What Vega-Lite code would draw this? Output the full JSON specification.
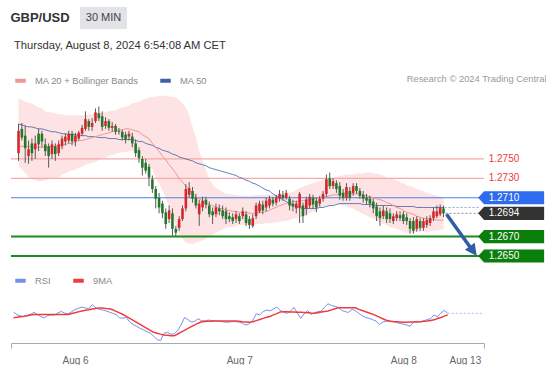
{
"$schema": "https://vega.github.io/schema/vega-lite/v6.json",
"background": "white",
"padding": {"left": 10, "top": 7, "right": 0, "bottom": 0},
"config": {"view": {"stroke": null}, "font": "Liberation Sans"},
"spacing": 7,
"resolve": {"scale": {"color": "independent", "x": "independent", "y": "independent"}, "legend": {"color": "independent"}},
"datasets": {
"candles": [
{"i":0,"o":1.2756,"h":1.2786,"l":1.2748,"c":1.2779,"m20":1.2763,"bu":1.2812,"bl":1.2743,"m50":1.2786,"rsi":52,"rma":45.2},
{"i":1,"o":1.2781,"h":1.2787,"l":1.2769,"c":1.2772,"m20":1.2763,"bu":1.2811,"bl":1.2739,"m50":1.2785,"rsi":49,"rma":45.8},
{"i":2,"o":1.2774,"h":1.2784,"l":1.2746,"c":1.2761,"m20":1.2763,"bu":1.2809,"bl":1.2736,"m50":1.2784,"rsi":47.5,"rma":46.4},
{"i":3,"o":1.2753,"h":1.2769,"l":1.2745,"c":1.2760,"m20":1.2763,"bu":1.2808,"bl":1.2731,"m50":1.2783,"rsi":46.4,"rma":47},
{"i":4,"o":1.2766,"h":1.2771,"l":1.2748,"c":1.2756,"m20":1.2762,"bu":1.2807,"bl":1.2729,"m50":1.2783,"rsi":48,"rma":47.7},
{"i":5,"o":1.2760,"h":1.2774,"l":1.2750,"c":1.2766,"m20":1.2762,"bu":1.2805,"bl":1.2728,"m50":1.2782,"rsi":49.5,"rma":48.4},
{"i":6,"o":1.2776,"h":1.2781,"l":1.2758,"c":1.2765,"m20":1.2762,"bu":1.2803,"bl":1.2727,"m50":1.2781,"rsi":51.6,"rma":49},
{"i":7,"o":1.2776,"h":1.2779,"l":1.2762,"c":1.2768,"m20":1.2762,"bu":1.2802,"bl":1.2727,"m50":1.2781,"rsi":49,"rma":49},
{"i":8,"o":1.2765,"h":1.2771,"l":1.2753,"c":1.2758,"m20":1.2762,"bu":1.2799,"bl":1.2728,"m50":1.2780,"rsi":46.5,"rma":49},
{"i":9,"o":1.2763,"h":1.2766,"l":1.2741,"c":1.2753,"m20":1.2762,"bu":1.2798,"bl":1.2729,"m50":1.2779,"rsi":45,"rma":49},
{"i":10,"o":1.2755,"h":1.2769,"l":1.2750,"c":1.2765,"m20":1.2763,"bu":1.2798,"bl":1.2729,"m50":1.2778,"rsi":48,"rma":49},
{"i":11,"o":1.2763,"h":1.2766,"l":1.2748,"c":1.2755,"m20":1.2763,"bu":1.2797,"bl":1.2730,"m50":1.2778,"rsi":48.5,"rma":49},
{"i":12,"o":1.2756,"h":1.2769,"l":1.2753,"c":1.2765,"m20":1.2764,"bu":1.2796,"bl":1.2731,"m50":1.2777,"rsi":48.5,"rma":49},
{"i":13,"o":1.2763,"h":1.2774,"l":1.2760,"c":1.2771,"m20":1.2765,"bu":1.2796,"bl":1.2734,"m50":1.2776,"rsi":51,"rma":49},
{"i":14,"o":1.2768,"h":1.2776,"l":1.2764,"c":1.2773,"m20":1.2765,"bu":1.2795,"bl":1.2735,"m50":1.2776,"rsi":52.8,"rma":49},
{"i":15,"o":1.2769,"h":1.2779,"l":1.2766,"c":1.2776,"m20":1.2766,"bu":1.2795,"bl":1.2737,"m50":1.2775,"rsi":50.5,"rma":49},
{"i":16,"o":1.2776,"h":1.2779,"l":1.2764,"c":1.2768,"m20":1.2766,"bu":1.2795,"bl":1.2738,"m50":1.2775,"rsi":50,"rma":49},
{"i":17,"o":1.2768,"h":1.2777,"l":1.2763,"c":1.2774,"m20":1.2768,"bu":1.2795,"bl":1.2739,"m50":1.2775,"rsi":52.5,"rma":50.2},
{"i":18,"o":1.2771,"h":1.2779,"l":1.2769,"c":1.2777,"m20":1.2769,"bu":1.2795,"bl":1.2741,"m50":1.2774,"rsi":55,"rma":51.3},
{"i":19,"o":1.2776,"h":1.2785,"l":1.2774,"c":1.2782,"m20":1.2769,"bu":1.2795,"bl":1.2742,"m50":1.2774,"rsi":56.5,"rma":52.3},
{"i":20,"o":1.2781,"h":1.2799,"l":1.2779,"c":1.2791,"m20":1.2770,"bu":1.2795,"bl":1.2744,"m50":1.2774,"rsi":58,"rma":53.4},
{"i":21,"o":1.2789,"h":1.2791,"l":1.2779,"c":1.2783,"m20":1.2771,"bu":1.2796,"bl":1.2745,"m50":1.2773,"rsi":57,"rma":54.3},
{"i":22,"o":1.2783,"h":1.2792,"l":1.2779,"c":1.2787,"m20":1.2772,"bu":1.2796,"bl":1.2746,"m50":1.2773,"rsi":56,"rma":54.9},
{"i":23,"o":1.2789,"h":1.2802,"l":1.2787,"c":1.2798,"m20":1.2773,"bu":1.2797,"bl":1.2747,"m50":1.2773,"rsi":61,"rma":55.6},
{"i":24,"o":1.2797,"h":1.2804,"l":1.2789,"c":1.2792,"m20":1.2774,"bu":1.2797,"bl":1.2749,"m50":1.2772,"rsi":57,"rma":56.2},
{"i":25,"o":1.2794,"h":1.2799,"l":1.2779,"c":1.2783,"m20":1.2775,"bu":1.2798,"bl":1.2750,"m50":1.2772,"rsi":55.4,"rma":56.8},
{"i":26,"o":1.2784,"h":1.2793,"l":1.2781,"c":1.2789,"m20":1.2776,"bu":1.2798,"bl":1.2751,"m50":1.2772,"rsi":54.5,"rma":57},
{"i":27,"o":1.2789,"h":1.2791,"l":1.2779,"c":1.2782,"m20":1.2777,"bu":1.2799,"bl":1.2753,"m50":1.2771,"rsi":53.5,"rma":56.4},
{"i":28,"o":1.2782,"h":1.2788,"l":1.2778,"c":1.2784,"m20":1.2778,"bu":1.2800,"bl":1.2754,"m50":1.2771,"rsi":52,"rma":55.9},
{"i":29,"o":1.2784,"h":1.2786,"l":1.2775,"c":1.2778,"m20":1.2779,"bu":1.2800,"bl":1.2755,"m50":1.2771,"rsi":50.5,"rma":54.7},
{"i":30,"o":1.2779,"h":1.2782,"l":1.2775,"c":1.2778,"m20":1.2780,"bu":1.2802,"bl":1.2756,"m50":1.2770,"rsi":49,"rma":52.9},
{"i":31,"o":1.2778,"h":1.2780,"l":1.2769,"c":1.2772,"m20":1.2780,"bu":1.2803,"bl":1.2757,"m50":1.2770,"rsi":45,"rma":51},
{"i":32,"o":1.2775,"h":1.2778,"l":1.2766,"c":1.2770,"m20":1.2781,"bu":1.2804,"bl":1.2757,"m50":1.2770,"rsi":44.8,"rma":49.1},
{"i":33,"o":1.2773,"h":1.2779,"l":1.2769,"c":1.2776,"m20":1.2781,"bu":1.2805,"bl":1.2758,"m50":1.2770,"rsi":45.5,"rma":46.9},
{"i":34,"o":1.2773,"h":1.2777,"l":1.2762,"c":1.2766,"m20":1.2780,"bu":1.2807,"bl":1.2758,"m50":1.2770,"rsi":40,"rma":44.5},
{"i":35,"o":1.2766,"h":1.2770,"l":1.2752,"c":1.2756,"m20":1.2779,"bu":1.2808,"bl":1.2757,"m50":1.2769,"rsi":37,"rma":42.1},
{"i":36,"o":1.2759,"h":1.2762,"l":1.2746,"c":1.2751,"m20":1.2778,"bu":1.2809,"bl":1.2755,"m50":1.2768,"rsi":35,"rma":39.7},
{"i":37,"o":1.2750,"h":1.2753,"l":1.2733,"c":1.2741,"m20":1.2775,"bu":1.2811,"bl":1.2753,"m50":1.2768,"rsi":32.5,"rma":37.2},
{"i":38,"o":1.2746,"h":1.2750,"l":1.2735,"c":1.2738,"m20":1.2773,"bu":1.2812,"bl":1.2749,"m50":1.2766,"rsi":30.8,"rma":34.8},
{"i":39,"o":1.2742,"h":1.2745,"l":1.2722,"c":1.2731,"m20":1.2771,"bu":1.2813,"bl":1.2744,"m50":1.2765,"rsi":28.5,"rma":32.5},
{"i":40,"o":1.2729,"h":1.2733,"l":1.2715,"c":1.2719,"m20":1.2766,"bu":1.2814,"bl":1.2739,"m50":1.2764,"rsi":26.8,"rma":30.1},
{"i":41,"o":1.2719,"h":1.2722,"l":1.2699,"c":1.2709,"m20":1.2762,"bu":1.2814,"bl":1.2731,"m50":1.2762,"rsi":23,"rma":27.8},
{"i":42,"o":1.2710,"h":1.2715,"l":1.2694,"c":1.2700,"m20":1.2758,"bu":1.2815,"bl":1.2725,"m50":1.2761,"rsi":19,"rma":26.7},
{"i":43,"o":1.2704,"h":1.2707,"l":1.2689,"c":1.2694,"m20":1.2753,"bu":1.2815,"bl":1.2718,"m50":1.2759,"rsi":18,"rma":25.6},
{"i":44,"o":1.2695,"h":1.2699,"l":1.2678,"c":1.2683,"m20":1.2749,"bu":1.2815,"bl":1.2709,"m50":1.2758,"rsi":26.5,"rma":24.6},
{"i":45,"o":1.2688,"h":1.2702,"l":1.2684,"c":1.2697,"m20":1.2744,"bu":1.2814,"bl":1.2701,"m50":1.2757,"rsi":27.7,"rma":24.2},
{"i":46,"o":1.2694,"h":1.2699,"l":1.2671,"c":1.2678,"m20":1.2740,"bu":1.2814,"bl":1.2693,"m50":1.2755,"rsi":25.5,"rma":23.8},
{"i":47,"o":1.2678,"h":1.2681,"l":1.2670,"c":1.2674,"m20":1.2735,"bu":1.2813,"bl":1.2681,"m50":1.2754,"rsi":26,"rma":23.6},
{"i":48,"o":1.2679,"h":1.2691,"l":1.2676,"c":1.2688,"m20":1.2730,"bu":1.2811,"bl":1.2673,"m50":1.2752,"rsi":30,"rma":25.8},
{"i":49,"o":1.2688,"h":1.2702,"l":1.2686,"c":1.2699,"m20":1.2726,"bu":1.2807,"bl":1.2668,"m50":1.2751,"rsi":36.5,"rma":28},
{"i":50,"o":1.2699,"h":1.2724,"l":1.2696,"c":1.2719,"m20":1.2722,"bu":1.2803,"bl":1.2664,"m50":1.2750,"rsi":45.5,"rma":30.2},
{"i":51,"o":1.2713,"h":1.2726,"l":1.2710,"c":1.2720,"m20":1.2718,"bu":1.2795,"bl":1.2663,"m50":1.2749,"rsi":43,"rma":32.4},
{"i":52,"o":1.2717,"h":1.2721,"l":1.2705,"c":1.2709,"m20":1.2715,"bu":1.2783,"bl":1.2662,"m50":1.2748,"rsi":40,"rma":34.5},
{"i":53,"o":1.2710,"h":1.2714,"l":1.2699,"c":1.2702,"m20":1.2711,"bu":1.2772,"bl":1.2664,"m50":1.2746,"rsi":41,"rma":36.6},
{"i":54,"o":1.2693,"h":1.2708,"l":1.2681,"c":1.2704,"m20":1.2709,"bu":1.2758,"bl":1.2665,"m50":1.2745,"rsi":44,"rma":38.7},
{"i":55,"o":1.2700,"h":1.2711,"l":1.2696,"c":1.2707,"m20":1.2707,"bu":1.2748,"bl":1.2666,"m50":1.2744,"rsi":41.5,"rma":40.4},
{"i":56,"o":1.2708,"h":1.2711,"l":1.2699,"c":1.2703,"m20":1.2704,"bu":1.2739,"bl":1.2668,"m50":1.2743,"rsi":41.5,"rma":40.7},
{"i":57,"o":1.2702,"h":1.2706,"l":1.2690,"c":1.2693,"m20":1.2703,"bu":1.2729,"bl":1.2670,"m50":1.2741,"rsi":42.4,"rma":40.9},
{"i":58,"o":1.2696,"h":1.2700,"l":1.2683,"c":1.2692,"m20":1.2702,"bu":1.2724,"bl":1.2672,"m50":1.2740,"rsi":41.8,"rma":41.1},
{"i":59,"o":1.2693,"h":1.2704,"l":1.2690,"c":1.2700,"m20":1.2700,"bu":1.2720,"bl":1.2674,"m50":1.2739,"rsi":41.5,"rma":41.3},
{"i":60,"o":1.2699,"h":1.2703,"l":1.2692,"c":1.2696,"m20":1.2699,"bu":1.2718,"bl":1.2676,"m50":1.2738,"rsi":41,"rma":41.3},
{"i":61,"o":1.2697,"h":1.2702,"l":1.2688,"c":1.2691,"m20":1.2699,"bu":1.2716,"bl":1.2677,"m50":1.2737,"rsi":40.5,"rma":41.3},
{"i":62,"o":1.2696,"h":1.2700,"l":1.2683,"c":1.2688,"m20":1.2697,"bu":1.2714,"bl":1.2679,"m50":1.2736,"rsi":39.8,"rma":41.3},
{"i":63,"o":1.2691,"h":1.2695,"l":1.2685,"c":1.2688,"m20":1.2697,"bu":1.2714,"bl":1.2680,"m50":1.2735,"rsi":40,"rma":41.3},
{"i":64,"o":1.2690,"h":1.2694,"l":1.2683,"c":1.2686,"m20":1.2696,"bu":1.2713,"bl":1.2680,"m50":1.2734,"rsi":40.6,"rma":41.3},
{"i":65,"o":1.2688,"h":1.2696,"l":1.2684,"c":1.2693,"m20":1.2696,"bu":1.2713,"bl":1.2681,"m50":1.2733,"rsi":40.5,"rma":41.3},
{"i":66,"o":1.2691,"h":1.2694,"l":1.2683,"c":1.2686,"m20":1.2695,"bu":1.2712,"bl":1.2682,"m50":1.2731,"rsi":40,"rma":40.9},
{"i":67,"o":1.2691,"h":1.2700,"l":1.2688,"c":1.2696,"m20":1.2695,"bu":1.2712,"bl":1.2682,"m50":1.2730,"rsi":38.5,"rma":40.5},
{"i":68,"o":1.2693,"h":1.2696,"l":1.2681,"c":1.2684,"m20":1.2695,"bu":1.2712,"bl":1.2682,"m50":1.2728,"rsi":36.5,"rma":40.2},
{"i":69,"o":1.2688,"h":1.2691,"l":1.2678,"c":1.2682,"m20":1.2694,"bu":1.2712,"bl":1.2683,"m50":1.2727,"rsi":38,"rma":39.8},
{"i":70,"o":1.2681,"h":1.2693,"l":1.2679,"c":1.2689,"m20":1.2694,"bu":1.2712,"bl":1.2683,"m50":1.2725,"rsi":42.5,"rma":40.5},
{"i":71,"o":1.2691,"h":1.2705,"l":1.2688,"c":1.2702,"m20":1.2694,"bu":1.2713,"bl":1.2683,"m50":1.2724,"rsi":50,"rma":41.8},
{"i":72,"o":1.2696,"h":1.2707,"l":1.2694,"c":1.2704,"m20":1.2695,"bu":1.2713,"bl":1.2683,"m50":1.2722,"rsi":48.5,"rma":43.1},
{"i":73,"o":1.2703,"h":1.2707,"l":1.2693,"c":1.2697,"m20":1.2695,"bu":1.2713,"bl":1.2683,"m50":1.2720,"rsi":52.5,"rma":44.5},
{"i":74,"o":1.2700,"h":1.2710,"l":1.2696,"c":1.2707,"m20":1.2696,"bu":1.2713,"bl":1.2684,"m50":1.2718,"rsi":54.5,"rma":45.8},
{"i":75,"o":1.2702,"h":1.2712,"l":1.2699,"c":1.2709,"m20":1.2697,"bu":1.2713,"bl":1.2684,"m50":1.2717,"rsi":53.5,"rma":46.8},
{"i":76,"o":1.2708,"h":1.2711,"l":1.2701,"c":1.2704,"m20":1.2699,"bu":1.2713,"bl":1.2684,"m50":1.2714,"rsi":55.5,"rma":48.6},
{"i":77,"o":1.2705,"h":1.2713,"l":1.2702,"c":1.2710,"m20":1.2700,"bu":1.2713,"bl":1.2685,"m50":1.2712,"rsi":58,"rma":50.1},
{"i":78,"o":1.2709,"h":1.2718,"l":1.2706,"c":1.2714,"m20":1.2702,"bu":1.2714,"bl":1.2685,"m50":1.2710,"rsi":54,"rma":52.2},
{"i":79,"o":1.2713,"h":1.2717,"l":1.2707,"c":1.2710,"m20":1.2703,"bu":1.2714,"bl":1.2686,"m50":1.2708,"rsi":52,"rma":52.4},
{"i":80,"o":1.2710,"h":1.2718,"l":1.2708,"c":1.2715,"m20":1.2704,"bu":1.2715,"bl":1.2686,"m50":1.2706,"rsi":50.5,"rma":52.3},
{"i":81,"o":1.2709,"h":1.2712,"l":1.2697,"c":1.2702,"m20":1.2705,"bu":1.2715,"bl":1.2687,"m50":1.2704,"rsi":53,"rma":52.1},
{"i":82,"o":1.2704,"h":1.2708,"l":1.2696,"c":1.2701,"m20":1.2706,"bu":1.2716,"bl":1.2688,"m50":1.2702,"rsi":57.5,"rma":52},
{"i":83,"o":1.2699,"h":1.2707,"l":1.2694,"c":1.2704,"m20":1.2706,"bu":1.2718,"bl":1.2689,"m50":1.2701,"rsi":51,"rma":51.8},
{"i":84,"o":1.2700,"h":1.2716,"l":1.2684,"c":1.2714,"m20":1.2707,"bu":1.2720,"bl":1.2690,"m50":1.2700,"rsi":44.4,"rma":51.7},
{"i":85,"o":1.2702,"h":1.2705,"l":1.2684,"c":1.2691,"m20":1.2707,"bu":1.2721,"bl":1.2691,"m50":1.2699,"rsi":50,"rma":51.6},
{"i":86,"o":1.2699,"h":1.2711,"l":1.2692,"c":1.2708,"m20":1.2708,"bu":1.2723,"bl":1.2693,"m50":1.2699,"rsi":54,"rma":51.2},
{"i":87,"o":1.2702,"h":1.2714,"l":1.2699,"c":1.2711,"m20":1.2708,"bu":1.2724,"bl":1.2694,"m50":1.2699,"rsi":49.2,"rma":50.8},
{"i":88,"o":1.2710,"h":1.2713,"l":1.2699,"c":1.2703,"m20":1.2709,"bu":1.2725,"bl":1.2696,"m50":1.2699,"rsi":51,"rma":50.5},
{"i":89,"o":1.2707,"h":1.2710,"l":1.2695,"c":1.2700,"m20":1.2709,"bu":1.2726,"bl":1.2697,"m50":1.2699,"rsi":52.5,"rma":51.3},
{"i":90,"o":1.2704,"h":1.2712,"l":1.2701,"c":1.2709,"m20":1.2710,"bu":1.2727,"bl":1.2700,"m50":1.2700,"rsi":53.2,"rma":52},
{"i":91,"o":1.2709,"h":1.2717,"l":1.2706,"c":1.2714,"m20":1.2711,"bu":1.2729,"bl":1.2701,"m50":1.2700,"rsi":58,"rma":52.7},
{"i":92,"o":1.2714,"h":1.2734,"l":1.2711,"c":1.2729,"m20":1.2711,"bu":1.2729,"bl":1.2702,"m50":1.2701,"rsi":62,"rma":53.3},
{"i":93,"o":1.2730,"h":1.2736,"l":1.2719,"c":1.2722,"m20":1.2712,"bu":1.2730,"bl":1.2702,"m50":1.2702,"rsi":59.8,"rma":54.6},
{"i":94,"o":1.2722,"h":1.2730,"l":1.2719,"c":1.2727,"m20":1.2713,"bu":1.2731,"bl":1.2703,"m50":1.2702,"rsi":58.8,"rma":56},
{"i":95,"o":1.2725,"h":1.2728,"l":1.2715,"c":1.2719,"m20":1.2713,"bu":1.2731,"bl":1.2703,"m50":1.2703,"rsi":57.5,"rma":57.2},
{"i":96,"o":1.2722,"h":1.2726,"l":1.2708,"c":1.2712,"m20":1.2714,"bu":1.2733,"bl":1.2703,"m50":1.2704,"rsi":54,"rma":57.2},
{"i":97,"o":1.2715,"h":1.2719,"l":1.2707,"c":1.2710,"m20":1.2715,"bu":1.2733,"bl":1.2702,"m50":1.2704,"rsi":52.5,"rma":57.2},
{"i":98,"o":1.2710,"h":1.2725,"l":1.2707,"c":1.2721,"m20":1.2715,"bu":1.2734,"bl":1.2701,"m50":1.2704,"rsi":51.6,"rma":57.2},
{"i":99,"o":1.2717,"h":1.2721,"l":1.2707,"c":1.2710,"m20":1.2715,"bu":1.2734,"bl":1.2700,"m50":1.2704,"rsi":55.5,"rma":57.2},
{"i":100,"o":1.2715,"h":1.2725,"l":1.2712,"c":1.2722,"m20":1.2714,"bu":1.2734,"bl":1.2699,"m50":1.2704,"rsi":53.5,"rma":57.1},
{"i":101,"o":1.2722,"h":1.2725,"l":1.2714,"c":1.2717,"m20":1.2714,"bu":1.2735,"bl":1.2697,"m50":1.2704,"rsi":50.4,"rma":55.2},
{"i":102,"o":1.2717,"h":1.2720,"l":1.2709,"c":1.2712,"m20":1.2714,"bu":1.2735,"bl":1.2695,"m50":1.2704,"rsi":47.5,"rma":53.8},
{"i":103,"o":1.2713,"h":1.2717,"l":1.2705,"c":1.2709,"m20":1.2713,"bu":1.2735,"bl":1.2693,"m50":1.2703,"rsi":45.5,"rma":52.3},
{"i":104,"o":1.2710,"h":1.2714,"l":1.2703,"c":1.2707,"m20":1.2712,"bu":1.2736,"bl":1.2692,"m50":1.2703,"rsi":44.5,"rma":50.9},
{"i":105,"o":1.2709,"h":1.2712,"l":1.2700,"c":1.2704,"m20":1.2711,"bu":1.2736,"bl":1.2690,"m50":1.2703,"rsi":43,"rma":49.6},
{"i":106,"o":1.2706,"h":1.2709,"l":1.2694,"c":1.2699,"m20":1.2710,"bu":1.2735,"bl":1.2688,"m50":1.2703,"rsi":41.2,"rma":47.8},
{"i":107,"o":1.2701,"h":1.2705,"l":1.2686,"c":1.2691,"m20":1.2709,"bu":1.2735,"bl":1.2687,"m50":1.2702,"rsi":37,"rma":45.9},
{"i":108,"o":1.2696,"h":1.2700,"l":1.2681,"c":1.2689,"m20":1.2708,"bu":1.2734,"bl":1.2685,"m50":1.2702,"rsi":40,"rma":44},
{"i":109,"o":1.2691,"h":1.2702,"l":1.2688,"c":1.2697,"m20":1.2707,"bu":1.2733,"bl":1.2683,"m50":1.2702,"rsi":41.2,"rma":42.2},
{"i":110,"o":1.2696,"h":1.2700,"l":1.2684,"c":1.2688,"m20":1.2705,"bu":1.2731,"bl":1.2682,"m50":1.2702,"rsi":40.8,"rma":41.2},
{"i":111,"o":1.2694,"h":1.2699,"l":1.2684,"c":1.2688,"m20":1.2704,"bu":1.2730,"bl":1.2680,"m50":1.2702,"rsi":40.5,"rma":40.8},
{"i":112,"o":1.2686,"h":1.2694,"l":1.2683,"c":1.2691,"m20":1.2702,"bu":1.2729,"bl":1.2679,"m50":1.2702,"rsi":39.5,"rma":40.5},
{"i":113,"o":1.2689,"h":1.2696,"l":1.2686,"c":1.2693,"m20":1.2700,"bu":1.2728,"bl":1.2678,"m50":1.2701,"rsi":38.4,"rma":40.1},
{"i":114,"o":1.2692,"h":1.2696,"l":1.2686,"c":1.2689,"m20":1.2699,"bu":1.2726,"bl":1.2677,"m50":1.2701,"rsi":37.5,"rma":39.7},
{"i":115,"o":1.2693,"h":1.2696,"l":1.2683,"c":1.2686,"m20":1.2697,"bu":1.2725,"bl":1.2675,"m50":1.2701,"rsi":36.5,"rma":39.8},
{"i":116,"o":1.2690,"h":1.2694,"l":1.2682,"c":1.2686,"m20":1.2695,"bu":1.2723,"bl":1.2674,"m50":1.2701,"rsi":35,"rma":40},
{"i":117,"o":1.2686,"h":1.2689,"l":1.2673,"c":1.2678,"m20":1.2694,"bu":1.2722,"bl":1.2674,"m50":1.2701,"rsi":40,"rma":40.1},
{"i":118,"o":1.2686,"h":1.2690,"l":1.2673,"c":1.2676,"m20":1.2693,"bu":1.2721,"bl":1.2674,"m50":1.2701,"rsi":41,"rma":40.2},
{"i":119,"o":1.2678,"h":1.2691,"l":1.2675,"c":1.2688,"m20":1.2691,"bu":1.2719,"bl":1.2675,"m50":1.2700,"rsi":40.4,"rma":40.4},
{"i":120,"o":1.2686,"h":1.2689,"l":1.2676,"c":1.2679,"m20":1.2690,"bu":1.2718,"bl":1.2675,"m50":1.2700,"rsi":41.5,"rma":41},
{"i":121,"o":1.2679,"h":1.2689,"l":1.2676,"c":1.2686,"m20":1.2689,"bu":1.2717,"bl":1.2675,"m50":1.2700,"rsi":43,"rma":41.4},
{"i":122,"o":1.2682,"h":1.2691,"l":1.2679,"c":1.2687,"m20":1.2688,"bu":1.2715,"bl":1.2675,"m50":1.2700,"rsi":44,"rma":42},
{"i":123,"o":1.2684,"h":1.2692,"l":1.2681,"c":1.2689,"m20":1.2688,"bu":1.2714,"bl":1.2675,"m50":1.2700,"rsi":48.5,"rma":42.7},
{"i":124,"o":1.2689,"h":1.2700,"l":1.2686,"c":1.2696,"m20":1.2688,"bu":1.2713,"bl":1.2676,"m50":1.2700,"rsi":46.5,"rma":44.3},
{"i":125,"o":1.2691,"h":1.2702,"l":1.2689,"c":1.2696,"m20":1.2687,"bu":1.2712,"bl":1.2676,"m50":1.2700,"rsi":51,"rma":45.6},
{"i":126,"o":1.2693,"h":1.2703,"l":1.2691,"c":1.2700,"m20":1.2687,"bu":1.2711,"bl":1.2677,"m50":1.2700,"rsi":54,"rma":47.1},
{"i":127,"o":1.2699,"h":1.2702,"l":1.2690,"c":1.2694,"m20":1.2687,"bu":1.2710,"bl":1.2677,"m50":1.2700,"rsi":50.5,"rma":48.6}
],
"levels": [
{"level":1.275,"kind":"res","txt":"1.2750"},
{"level":1.273,"kind":"res","txt":"1.2730"},
{"level":1.271,"kind":"piv","txt":"1.2710"},
{"level":1.2694,"kind":"last","txt":"1.2694"},
{"level":1.267,"kind":"sup","txt":"1.2670"},
{"level":1.265,"kind":"sup","txt":"1.2650"}
],
"ext": [
{"series":"ma50","from":127.3,"to":137.6,"value":1.27},
{"series":"last","from":127.6,"to":137.6,"value":1.2694},
{"series":"rsi","from":127,"to":137.6,"value":50.5}
],
"arrow": [{"i":127.9,"p":1.2693},{"i":135.2,"p":1.2658}],
"head": [{"i":136.95,"p":1.2650}]
},
"vconcat": [
{
"spacing": 10,
"hconcat": [
{"width": 58, "height": 25, "data": {"values": [{"t": "GBP/USD"}]},
 "mark": {"type": "text", "fontSize": 13, "fontWeight": "bold", "color": "#333333", "dy": -1.5},
 "encoding": {"text": {"field": "t"}}},
{"width": 47, "height": 22, "view": {"fill": "#e1e3e6", "stroke": null}, "data": {"values": [{"t": "30 MIN"}]},
 "mark": {"type": "text", "fontSize": 11, "color": "#444444"},
 "encoding": {"text": {"field": "t"}}}
]
},
{
"width": 473, "height": 172,
"title": {"text": "Thursday, August 8, 2024 6:54:08 AM CET", "anchor": "start", "frame": "group", "fontSize": 11.2, "fontWeight": "normal", "color": "#333333", "offset": 22, "dx": 3},
"layer": [
{"data": {"name": "candles"}, "mark": {"type": "area", "color": "#fde3e3"},
 "encoding": {"x": {"field": "i", "type": "quantitative", "scale": {"domain": [-0.75, 137.6], "nice": false, "zero": false},
  "axis": {"orient": "top", "labels": false, "ticks": false, "domain": false, "grid": false, "title": "Research © 2024 Trading Central", "titleFontSize": 9.4, "titleFontWeight": "normal", "titleColor": "#9a9a9a", "titleX": 535, "titleY": -16, "titleAlign": "right", "titleBaseline": "middle"}},
  "y": {"field": "bu", "type": "quantitative", "scale": {"domain": [1.26397, 1.28169], "nice": false, "zero": false}, "axis": null}, "y2": {"field": "bl"}}},
{"data": {"name": "levels"}, "transform": [{"filter": "datum.kind != 'last'"}], "mark": {"type": "rule"},
 "encoding": {"y": {"field": "level", "type": "quantitative", "axis": null},
  "color": {"condition": [{"test": "datum.kind == 'res'", "value": "#f6a9a9"}, {"test": "datum.kind == 'piv'", "value": "#4c80ea"}], "value": "#1f8a1f"},
  "strokeWidth": {"condition": {"test": "datum.kind == 'sup'", "value": 2}, "value": 1.2}}},
{"data": {"name": "candles"}, "mark": {"type": "line", "strokeWidth": 1, "opacity": 0.8},
 "encoding": {"x": {"field": "i", "type": "quantitative"}, "y": {"field": "m50", "type": "quantitative", "axis": null},
  "color": {"datum": "MA 50", "type": "nominal", "scale": {"domain": ["MA 20 + Bollinger Bands", "MA 50"], "range": ["#f29595", "#3c60aa"]},
   "legend": {"orient": "none", "legendX": 2, "legendY": -21, "direction": "horizontal", "title": null, "symbolType": "stroke", "symbolStrokeWidth": 4, "symbolSize": 110, "symbolOpacity": 1, "labelFontSize": 9.4, "labelColor": "#8a8a8a", "columnPadding": 13, "labelOffset": 7}}}},
{"data": {"name": "candles"}, "mark": {"type": "line", "strokeWidth": 1},
 "encoding": {"x": {"field": "i", "type": "quantitative"}, "y": {"field": "m20", "type": "quantitative", "axis": null}, "color": {"datum": "MA 20 + Bollinger Bands", "type": "nominal"}}},
{"data": {"name": "ext"}, "transform": [{"filter": "datum.series == 'ma50'"}], "mark": {"type": "rule", "strokeDash": [2, 2], "color": "#8fa8e0"},
 "encoding": {"x": {"field": "from", "type": "quantitative"}, "x2": {"field": "to"}, "y": {"field": "value", "type": "quantitative", "axis": null}}},
{"data": {"name": "ext"}, "transform": [{"filter": "datum.series == 'last'"}], "mark": {"type": "rule", "strokeDash": [2, 2], "color": "#8a8a8a"},
 "encoding": {"x": {"field": "from", "type": "quantitative"}, "x2": {"field": "to"}, "y": {"field": "value", "type": "quantitative", "axis": null}}},
{"data": {"name": "candles"}, "mark": {"type": "rule", "color": "#5a5a5a", "strokeWidth": 1},
 "encoding": {"x": {"field": "i", "type": "quantitative"}, "y": {"field": "l", "type": "quantitative", "axis": null}, "y2": {"field": "h"}}},
{"data": {"name": "candles"}, "mark": {"type": "bar", "size": 2.6},
 "encoding": {"x": {"field": "i", "type": "quantitative"}, "y": {"field": "o", "type": "quantitative", "axis": null}, "y2": {"field": "c"},
  "color": {"condition": {"test": "datum.c > datum.o", "value": "#d6262b"}, "value": "#22782a"}}},
{"data": {"name": "arrow"}, "mark": {"type": "line", "strokeWidth": 3.5, "color": "#2f5ea6"},
 "encoding": {"x": {"field": "i", "type": "quantitative"}, "y": {"field": "p", "type": "quantitative", "axis": null}}},
{"data": {"name": "head"}, "mark": {"type": "point", "shape": "M0,0L-0.45,-0.9L0.45,-0.9Z", "filled": true, "size": 711, "angle": 324, "opacity": 1, "color": "#2f5ea6"},
 "encoding": {"x": {"field": "i", "type": "quantitative"}, "y": {"field": "p", "type": "quantitative", "axis": null}}},
{"data": {"name": "levels"}, "transform": [{"filter": "datum.kind != 'res'"}], "mark": {"type": "point", "shape": "M-1,0L-0.82,-0.2H1V0.2H-0.82Z", "filled": true, "size": 4356, "opacity": 1},
 "encoding": {"x": {"datum": 147.2, "type": "quantitative"}, "y": {"field": "level", "type": "quantitative", "axis": null},
  "color": {"condition": [{"test": "datum.kind == 'piv'", "value": "#2d6cee"}, {"test": "datum.kind == 'last'", "value": "#333333"}], "value": "#0b7f0b"}}},
{"data": {"name": "levels"}, "mark": {"type": "text", "align": "left", "baseline": "middle", "fontSize": 10},
 "encoding": {"x": {"datum": 140.5, "type": "quantitative"}, "y": {"field": "level", "type": "quantitative", "axis": null}, "text": {"field": "txt"},
  "color": {"condition": {"test": "datum.kind == 'res'", "value": "#f03a3a"}, "value": "#ffffff"}}}
]
},
{
"width": 473, "height": 56,
"encoding": {"x": {"field": "i", "type": "quantitative", "scale": {"domain": [-0.75, 137.6], "nice": false, "zero": false},
  "axis": {"values": [-0.75, 18, 66, 114, 132, 137.6], "labelExpr": "datum.value == 18 ? 'Aug 6' : datum.value == 66 ? 'Aug 7' : datum.value == 114 ? 'Aug 8' : datum.value == 132 ? 'Aug 13' : ''", "grid": false, "title": null, "domainColor": "#aaaaaa", "tickColor": {"condition": {"test": "datum.value < 0 || datum.value > 137", "value": "#aaaaaa"}, "value": "transparent"}, "tickSize": 5, "labelColor": "#666666", "labelFontSize": 10, "labelPadding": 7, "labelFlush": false}}},
"layer": [
{"data": {"name": "candles"}, "mark": {"type": "line", "strokeWidth": 1},
 "encoding": {"y": {"field": "rsi", "type": "quantitative", "scale": {"domain": [15, 82], "nice": false, "zero": false},
   "axis": {"orient": "right", "values": [30, 50, 70], "title": null, "grid": true, "gridDash": [1, 3], "gridColor": "#b5b5b5", "domain": false, "ticks": false, "tickSize": 0, "labelPadding": 9, "labelColor": "#666666", "labelFontSize": 10}},
  "color": {"datum": "RSI", "type": "nominal", "scale": {"domain": ["RSI", "9MA"], "range": ["#7392ec", "#f03c3c"]},
   "legend": {"orient": "none", "legendX": 2, "legendY": -14, "direction": "horizontal", "title": null, "symbolType": "stroke", "symbolStrokeWidth": 4, "symbolSize": 110, "labelFontSize": 9.4, "labelColor": "#8a8a8a", "columnPadding": 14, "labelOffset": 7}}}},
{"data": {"name": "candles"}, "mark": {"type": "line", "strokeWidth": 1.5},
 "encoding": {"y": {"field": "rma", "type": "quantitative", "axis": null}, "color": {"datum": "9MA", "type": "nominal"}}},
{"data": {"name": "ext"}, "transform": [{"filter": "datum.series == 'rsi'"}], "mark": {"type": "rule", "strokeDash": [2, 2], "color": "#a9bbf0"},
 "encoding": {"x": {"field": "from", "type": "quantitative"}, "x2": {"field": "to"}, "y": {"field": "value", "type": "quantitative", "axis": null}}}
]
}
]
}
